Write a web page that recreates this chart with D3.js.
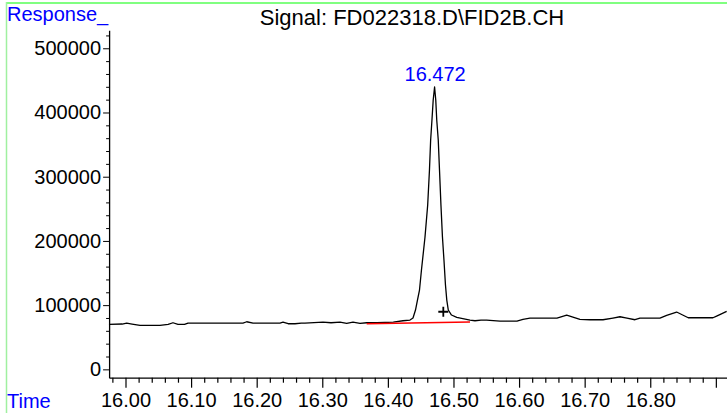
<!DOCTYPE html>
<html>
<head>
<meta charset="utf-8">
<script src="https://cdn.jsdelivr.net/npm/d3@7"></script>
<style>
  html, body { margin: 0; padding: 0; background: #fff; }
  svg { display: block; }
  text { font-family: "Liberation Sans", Arial, sans-serif; }
</style>
</head>
<body>
<svg id="chart" width="727" height="413"></svg>
<script>
// ---- data ----
const title = "Signal: FD022318.D\\FID2B.CH";
const yAxisTitle = "Response_";
const xAxisTitle = "Time";
const peakLabel = "16.472";
const peakTime = 16.472;
const peakResponse = 439700;

const traceTime = [
  15.9748, 15.9950, 16.0018, 16.0100, 16.0221, 16.0526, 16.0650, 16.0724, 16.0800,
  16.0900, 16.0953, 16.1791, 16.1848, 16.1944, 16.2355, 16.2401, 16.2480,
  16.2584, 16.2680, 16.2736, 16.3011, 16.3133, 16.3270, 16.3372, 16.3468,
  16.3575, 16.3677, 16.3829, 16.4082, 16.4230, 16.4337, 16.4383, 16.4421,
  16.4451, 16.4482, 16.4512, 16.4566, 16.4607, 16.4634, 16.4652, 16.4672,
  16.4691, 16.4712, 16.4730, 16.4745, 16.4768, 16.4787, 16.4809, 16.4832,
  16.4855, 16.4878, 16.4898, 16.4921, 16.4970, 16.5050, 16.5252, 16.5328,
  16.5420, 16.5506, 16.5709, 16.5968, 16.6059, 16.6166, 16.6578, 16.6726,
  16.6928, 16.7081, 16.7279, 16.7431, 16.7538, 16.7645, 16.7767, 16.7843,
  16.8148, 16.8250, 16.8402, 16.8579, 16.8712, 16.8956, 16.9012, 16.9165
];
const traceResponse = [
  70090, 70600, 72120, 70600, 68530, 68530, 70090, 72580, 70090,
  70090, 72120, 72120, 74140, 72120, 72120, 73670, 71030,
  71030, 72120, 72120, 73670, 72600, 73670, 71650, 73670,
  71650, 72580, 72580, 73670, 75700, 76790, 79900, 92400,
  107900, 123500, 154700, 206100, 255900, 310400, 357200, 388300,
  419500, 439700, 419500, 388300, 357200, 310400, 255900, 206100,
  170200, 131300, 107900, 92400, 84600, 81000, 76790, 75700,
  76790, 76790, 75230, 75230, 77880, 79900, 79900, 84580,
  77880, 77260, 77260, 79900, 81930, 79900, 77260, 79900,
  79900, 84110, 89250, 80370, 80370, 80370, 83020, 90340
];

const baselineTime = [16.3677, 16.5252];
const baselineResponse = [71030, 73670];
const markerTime = 16.4845;
const markerResponse = 89700;

const xMajorTicks = [16.0, 16.1, 16.2, 16.3, 16.4, 16.5, 16.6, 16.7, 16.8, 16.9];
const xTickLabels = ["16.00", "16.10", "16.20", "16.30", "16.40", "16.50", "16.60", "16.70", "16.80", ""];
const yMajorTicks = [0, 100000, 200000, 300000, 400000, 500000];
const yTickLabels = ["0", "100000", "200000", "300000", "400000", "500000"];

// ---- drawing ----
const svg = d3.select("#chart");

const x = d3.scaleLinear().domain([15.975, 16.917]).range([109.1, 727]);
const y = d3.scaleLinear().domain([-13000, 528000]).range([377.7, 30.3]);

const xMinor = d3.range(15.98, 16.915, 0.02).filter(v => !xMajorTicks.some(m => Math.abs(m - v) < 1e-6));
const yMinor = d3.range(0, 521000, 20000).filter(v => !yMajorTicks.includes(v));

// green frame
svg.append("line").attr("x1", 6.5).attr("x2", 727).attr("y1", 3).attr("y2", 3)
  .attr("stroke", "#80ff80").attr("stroke-width", 2.2);
svg.append("line").attr("x1", 6.5).attr("x2", 6.5).attr("y1", 2).attr("y2", 413)
  .attr("stroke", "#a0f0a0").attr("stroke-width", 1.5);

// x axis
const xAxisMajor = d3.axisBottom(x).tickValues(xMajorTicks)
  .tickFormat((d, i) => xTickLabels[i]).tickSize(10).tickSizeOuter(0).tickPadding(5);
const gx = svg.append("g").attr("transform", `translate(0,${y.range()[0]})`).call(xAxisMajor);
gx.selectAll("text").attr("font-size", "20px").attr("fill", "#000")
  .attr("font-family", "'Liberation Sans', Arial, sans-serif");
gx.select(".domain").attr("stroke", "#000").attr("stroke-width", 1.3);
gx.selectAll(".tick line").attr("stroke-width", 1.2);
const xAxisMinor = d3.axisBottom(x).tickValues(xMinor).tickFormat("").tickSize(5).tickSizeOuter(0);
const gxm = svg.append("g").attr("transform", `translate(0,${y.range()[0]})`).call(xAxisMinor);
gxm.select(".domain").remove();
gxm.selectAll(".tick line").attr("stroke-width", 1.2);

// y axis
const yAxisMajor = d3.axisLeft(y).tickValues(yMajorTicks)
  .tickFormat((d, i) => yTickLabels[i]).tickSize(6).tickSizeOuter(0).tickPadding(2);
const gy = svg.append("g").attr("transform", `translate(${x.range()[0]},0)`).call(yAxisMajor);
gy.selectAll("text").attr("font-size", "20px").attr("fill", "#000")
  .attr("font-family", "'Liberation Sans', Arial, sans-serif");
gy.select(".domain").attr("stroke", "#000").attr("stroke-width", 1.3);
const yAxisMinor = d3.axisLeft(y).tickValues(yMinor).tickFormat("").tickSize(3).tickSizeOuter(0);
const gym = svg.append("g").attr("transform", `translate(${x.range()[0]},0)`).call(yAxisMinor);
gym.select(".domain").remove();

// titles
svg.append("text").attr("x", 7).attr("y", 21).attr("fill", "#0000ff")
  .attr("font-size", "20px").text(yAxisTitle);
svg.append("text").attr("x", 7).attr("y", 408).attr("fill", "#0000ff")
  .attr("font-size", "20px").text(xAxisTitle);
svg.append("text").attr("x", 412).attr("y", 25).attr("text-anchor", "middle")
  .attr("fill", "#000").attr("font-size", "22px").text(title);

// trace
const pts = traceTime.map((t, i) => [t, traceResponse[i]]);
const line = d3.line().x(d => x(d[0])).y(d => y(d[1]));
svg.append("path").datum(pts).attr("d", line)
  .attr("fill", "none").attr("stroke", "#000").attr("stroke-width", 1.3)
  .attr("stroke-linejoin", "round");

// baseline (red)
const bpts = baselineTime.map((t, i) => [t, baselineResponse[i]]);
svg.append("path").datum(bpts).attr("d", line)
  .attr("fill", "none").attr("stroke", "#ff0000").attr("stroke-width", 1.4);

// marker '+'
const mx = x(markerTime), my = y(markerResponse);
svg.append("path").attr("d", `M${mx - 5},${my}H${mx + 5}M${mx},${my - 5}V${my + 5}`)
  .attr("stroke", "#000").attr("stroke-width", 1.8);

// peak label
svg.append("text").attr("x", x(peakTime)).attr("y", y(peakResponse) - 6)
  .attr("text-anchor", "middle").attr("fill", "#0000ff").attr("font-size", "20px").text(peakLabel);
</script>
</body>
</html>
